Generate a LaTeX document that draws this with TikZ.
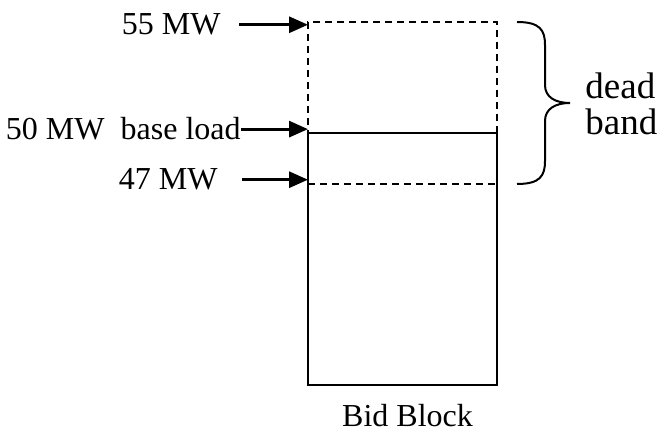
\documentclass[tikz,border=0pt]{standalone}
\usepackage{fontspec}
\setmainfont{Liberation Serif}
\usetikzlibrary{arrows.meta,positioning,calc}

\begin{document}
\begin{tikzpicture}[
  x=0.5pt, y=-0.5pt,
  font=\fontsize{16pt}{18pt}\selectfont,
  lbl/.style={inner sep=0pt},
  pointer/.style={-{Triangle[length=9.5pt, width=8pt]}, line width=1.5pt},
  blockbox/.style={draw, line width=1pt, inner sep=0pt, outer sep=0pt,
                   minimum width=94.5pt, minimum height=126pt},
  bandbox/.style={draw, line width=1pt, dash pattern=on 3.5pt off 2.5pt,
                  inner sep=0pt, outer sep=0pt,
                  minimum width=94.5pt, minimum height=81pt},
]
\useasboundingbox (0,0) rectangle (663,431);
\node[bandbox] (band) at (402.5,103) {};
\node[blockbox] (bid) at (402.5,259) {};
\node[lbl, below=9.5pt of bid, xshift=2.5pt] (bidlbl) {Bid Block};
% levels
\node[lbl, anchor=base east] (m55) at (221,35) {55 MW};
\node[lbl, anchor=base east] (m50) at (241,140) {50 MW~~base load};
\node[lbl, anchor=base east] (m47) at (218,190) {47 MW};
\draw[pointer, shorten <=9pt] (m55.east) -- (m55.east -| band.west);
\draw[pointer] (m50.east) -- (m50.east -| bid.west);
\draw[pointer, shorten <=12pt] (m47.east) -- (m47.east -| band.west);
% brace
\draw[line width=1pt] (517,22) .. controls (540,22) and (545,30) .. (545,45)
  -- (545,85) .. controls (545,97) and (555,103) .. (570,103)
  .. controls (555,103) and (545,109) .. (545,121)
  -- (545,161) .. controls (545,176) and (540,184) .. (517,184);
\node[lbl, anchor=west, align=left, font=\fontsize{18.5pt}{18pt}\selectfont]
  (dead) at (585,104) {dead\\band};
\end{tikzpicture}
\end{document}
